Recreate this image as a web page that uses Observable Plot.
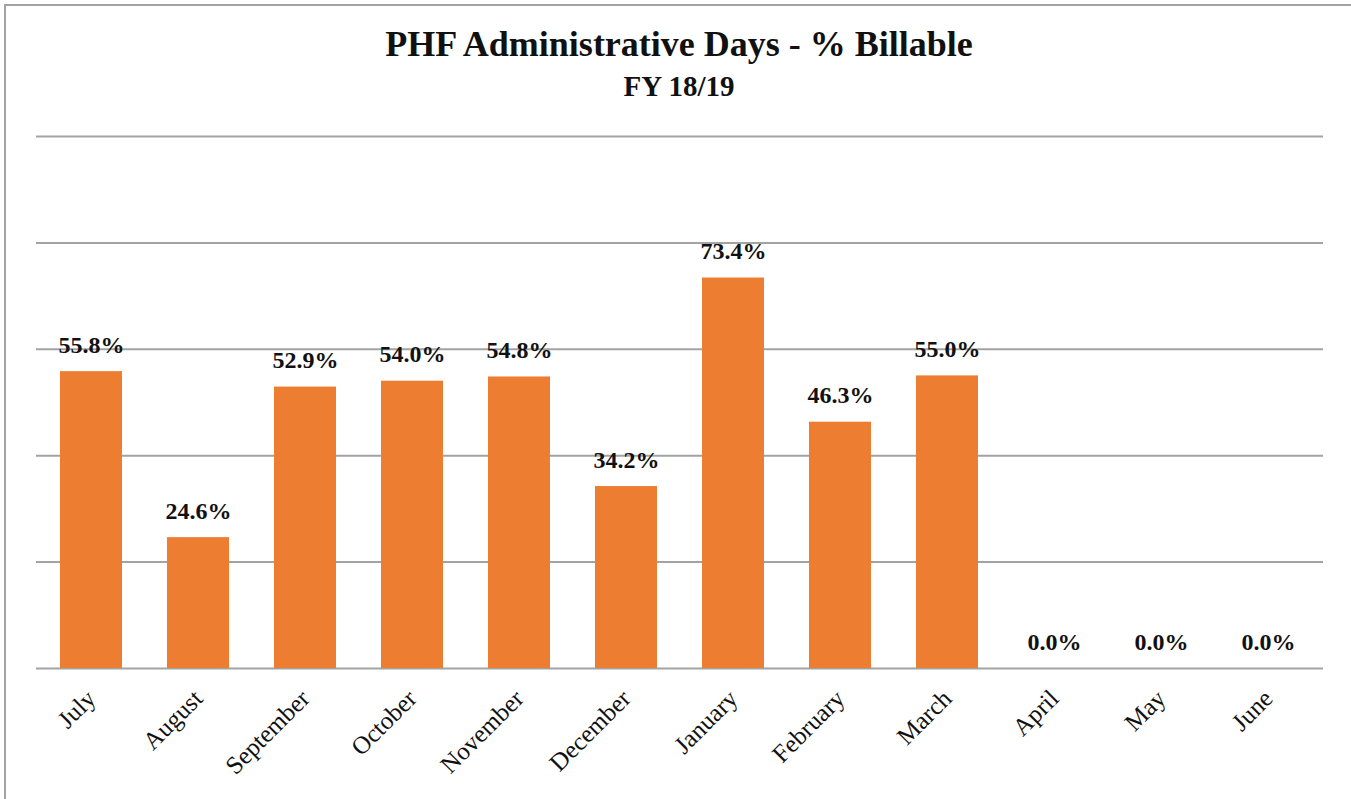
<!DOCTYPE html>
<html>
<head>
<meta charset="utf-8">
<script src="https://cdn.jsdelivr.net/npm/d3@7"></script>
<script src="https://cdn.jsdelivr.net/npm/@observablehq/plot@0.6"></script>
<style>
  html, body { margin: 0; padding: 0; background: #fff; }
  #wrap { position: relative; width: 1351px; height: 799px; overflow: hidden; font-family: "Liberation Serif", "DejaVu Serif", serif; }
  #frame { position: absolute; left: 4px; top: 4px; right: -10px; bottom: -10px; border-left: 2px solid #a3a3a3; border-top: 2px solid #a3a3a3; }
  #title { position: absolute; left: 0; width: 1358px; top: 24px; text-align: center; font-weight: bold; font-size: 36px; line-height: 40px; color: #111; }
  #subtitle { position: absolute; left: 0; width: 1358px; top: 69px; text-align: center; font-weight: bold; font-size: 29px; line-height: 34px; color: #111; }
  #chart { position: absolute; left: 0; top: 0; }
</style>
</head>
<body>
<div id="wrap">
  <div id="frame"></div>
  <div id="chart"></div>
  <div id="title">PHF Administrative Days - % Billable</div>
  <div id="subtitle">FY 18/19</div>
</div>
<script>
const months = ["July","August","September","October","November","December","January","February","March","April","May","June"];
const billablePct = [55.8, 24.6, 52.9, 54.0, 54.8, 34.2, 73.4, 46.3, 55.0, 0.0, 0.0, 0.0];
const gridTicks = [0, 20, 40, 60, 80, 100];

const data = months.map((m, i) => ({month: m, value: billablePct[i]}));

const chart = Plot.plot({
  width: 1351,
  height: 799,
  marginTop: 136,
  marginBottom: 131,
  marginLeft: 36,
  marginRight: 28,
  style: {fontFamily: "'Liberation Serif', 'DejaVu Serif', serif", background: "transparent", color: "#111"},
  x: {domain: months, paddingInner: 0.42, paddingOuter: 0.21, label: null},
  y: {domain: [0, 100], label: null, axis: null},
  marks: [
    Plot.ruleY(gridTicks, {stroke: "#a3a3a3", strokeWidth: 2}),
    Plot.barY(data, {x: "month", y: "value", fill: "#ED7D31"}),
    Plot.text(data, {x: "month", y: "value", text: d => d.value.toFixed(1) + "%", dy: -19, lineAnchor: "bottom", fontSize: 24, fontWeight: "bold", fill: "#111"}),
    Plot.axisX({tickSize: 0, tickPadding: 26, tickRotate: -45, fontSize: 25, label: null})
  ]
});
document.getElementById("chart").appendChild(chart);
</script>
</body>
</html>
